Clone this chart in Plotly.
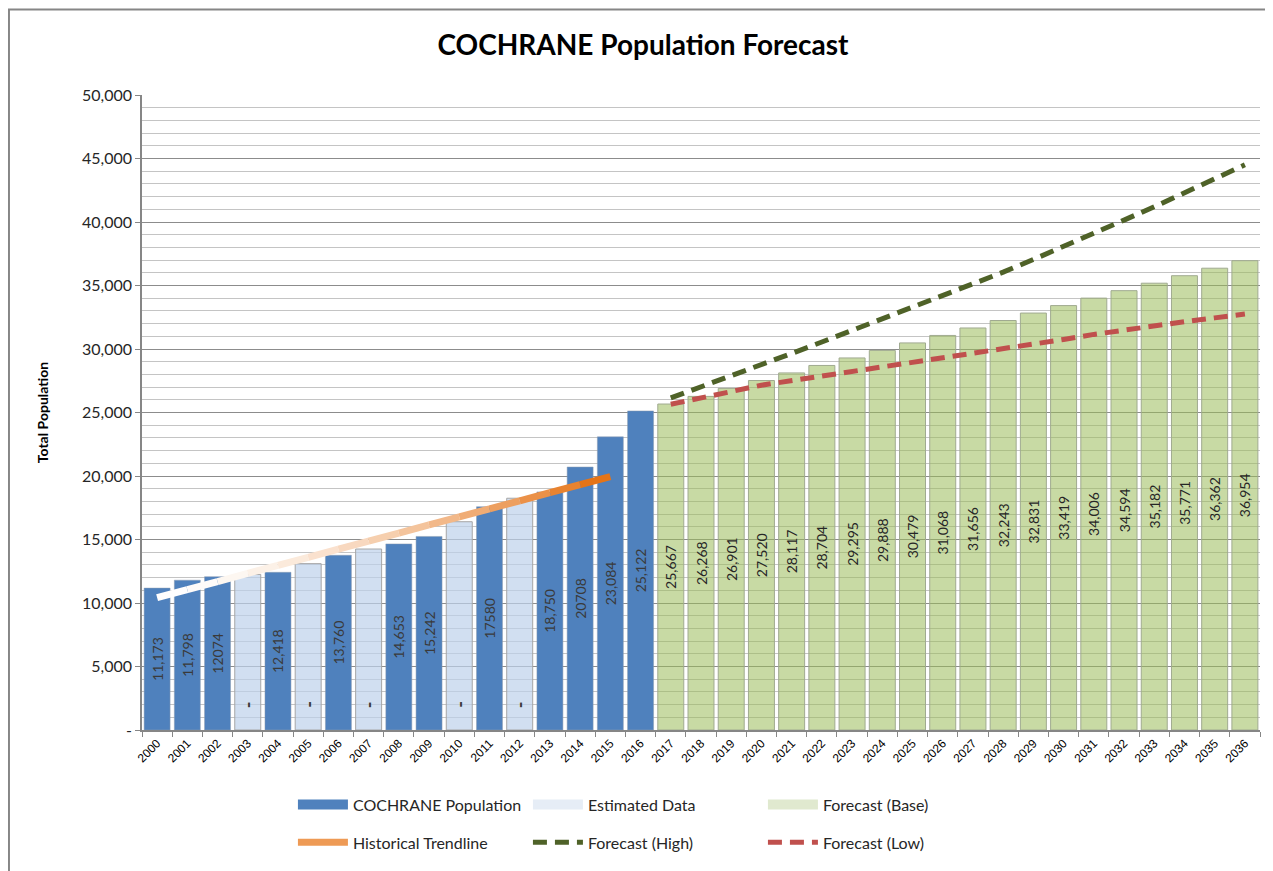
import plotly.graph_objects as go

# --- data ---
years = [str(y) for y in range(2000, 2037)]

hist_years = [str(y) for y in range(2000, 2017)]
hist_pop = [11173, 11798, 12074, None, 12418, None, 13760, None, 14653, 15242,
            None, 17580, None, 18750, 20708, 23084, 25122]
hist_labels = ["11,173", "11,798", "12074", "-", "12,418", "-", "13,760", "-", "14,653",
               "15,242", "-", "17580", "-", "18,750", "20708", "23,084", "25,122"]

est_years = ["2003", "2005", "2007", "2010", "2012"]
est_pop = [12250, 13100, 14250, 16400, 18250]

fc_years = [str(y) for y in range(2017, 2037)]
fc_base = [25667, 26268, 26901, 27520, 28117, 28704, 29295, 29888, 30479, 31068,
           31656, 32243, 32831, 33419, 34006, 34594, 35182, 35771, 36362, 36954]
fc_high = [26150, 27000, 27850, 28750, 29650, 30550, 31450, 32350, 33250, 34150,
           35100, 36050, 37050, 38050, 39100, 40150, 41200, 42300, 43400, 44500]
fc_low = [25650, 26200, 26650, 27150, 27500, 27900, 28200, 28600, 28950, 29300,
          29700, 30050, 30400, 30750, 31150, 31500, 31800, 32150, 32450, 32750]

trend_years = [str(y) for y in range(2000, 2016)]
trend_vals = [10420, 11060, 11690, 12330, 12970, 13600, 14240, 14870, 15510, 16150,
              16780, 17420, 18050, 18690, 19330, 19960]

y_ticks = [0, 5000, 10000, 15000, 20000, 25000, 30000, 35000, 40000, 45000, 50000]
y_tick_text = ["-", "5,000", "10,000", "15,000", "20,000", "25,000", "30,000",
               "35,000", "40,000", "45,000", "50,000"]

CAL = "Lato"
fig = go.Figure()

# estimated (light) bars behind
fig.add_trace(go.Bar(
    x=est_years, y=est_pop, name="Estimated Data", showlegend=False,
    marker=dict(color="rgba(190,210,235,0.7)", line=dict(color="#a6a6a6", width=1)),
    hoverinfo="y",
))

# actual population
fig.add_trace(go.Bar(
    x=hist_years, y=hist_pop, name="COCHRANE Population", showlegend=False,
    marker=dict(color="#4f81bd", line=dict(color="#8c9cb0", width=0.5)),
    text=[t if v is not None else "" for t, v in zip(hist_labels, hist_pop)],
    textposition="inside", insidetextanchor="middle", textangle=-90,
    textfont=dict(family=CAL, size=14, color="#3a3a3a"),
))

# forecast base
fig.add_trace(go.Bar(
    x=fc_years, y=fc_base, name="Forecast (Base)", showlegend=False,
    marker=dict(color="rgba(155,187,89,0.55)", line=dict(color="#a0aa90", width=1)),
    text=[f"{v:,}" for v in fc_base],
    textposition="inside", insidetextanchor="middle", textangle=-90,
    textfont=dict(family=CAL, size=14, color="#262626"),
))

# historical trendline, drawn in segments to fake the white -> orange gradient
n = len(trend_vals) - 1
for i in range(n):
    t = ((i + 0.5) / n) ** 1.6
    r = round(255 + (228 - 255) * t)
    g = round(255 + (108 - 255) * t)
    b = round(255 + (10 - 255) * t)
    fig.add_trace(go.Scatter(
        x=trend_years[i:i + 2], y=trend_vals[i:i + 2], mode="lines",
        line=dict(color=f"rgb({r},{g},{b})", width=7),
        showlegend=False, hoverinfo="skip",
    ))

fig.add_trace(go.Scatter(
    x=fc_years, y=fc_high, mode="lines", name="Forecast (High)", showlegend=False,
    line=dict(color="#4f6228", width=5, dash="14px,8px"),
))
fig.add_trace(go.Scatter(
    x=fc_years, y=fc_low, mode="lines", name="Forecast (Low)", showlegend=False,
    line=dict(color="#c0504d", width=5, dash="14px,8px"),
))

# legend entries (wide Excel-style swatches)
legend_items = [
    ("COCHRANE Population", "legend", dict(color="#4f81bd", width=10)),
    ("Estimated Data", "legend", dict(color="#e6edf6", width=10)),
    ("Forecast (Base)", "legend", dict(color="#e0e9cf", width=10)),
    ("Historical Trendline", "legend2", dict(color="#ee9a55", width=7)),
    ("Forecast (High)", "legend2", dict(color="#4f6228", width=5, dash="14px,8px")),
    ("Forecast (Low)", "legend2", dict(color="#c0504d", width=5, dash="14px,8px")),
]
for name, lg, ln in legend_items:
    fig.add_trace(go.Scatter(x=[None], y=[None], mode="lines", name=name,
                             legend=lg, line=ln, hoverinfo="skip"))

# the "-" labels on the estimated years (category axis -> use index positions)
for yr in est_years:
    fig.add_annotation(x=years.index(yr), y=2000, text="<b>-</b>", showarrow=False,
                       textangle=-90, font=dict(family=CAL, size=18, color="#3a3a3a"))

legend_style = dict(orientation="h", x=0.135, xanchor="left", yanchor="middle",
                    entrywidth=170, itemwidth=50, traceorder="normal",
                    font=dict(family=CAL, size=16, color="#262626"))

# page body has an 8px margin, so the figure is 8px smaller than the window
fig.update_layout(
    width=1265, height=863,
    paper_bgcolor="white", plot_bgcolor="white",
    margin=dict(l=134, r=13, t=87, b=138),
    barmode="overlay", bargap=0.14,
    title=dict(text="<b>COCHRANE Population Forecast</b>", x=0.502, xanchor="center",
               y=0.957, yanchor="middle", font=dict(family=CAL, size=28, color="black")),
    font=dict(family=CAL, color="#262626"),
    xaxis=dict(
        type="category", categoryorder="array", categoryarray=years,
        range=[-0.5, len(years) - 0.5], automargin=False,
        tickangle=-45, tickfont=dict(family="Liberation Sans", size=12, color="black"),
        ticks="outside", ticklen=5, tickcolor="#868686", tickson="boundaries",
        showline=True, linecolor="#868686", linewidth=1.5, showgrid=False,
    ),
    yaxis=dict(
        range=[0, 50000], tickvals=y_ticks, ticktext=y_tick_text, automargin=False,
        tickfont=dict(family=CAL, size=16, color="#262626"),
        ticks="outside", ticklen=5, tickcolor="#868686",
        showline=True, linecolor="#868686", linewidth=1.5,
        showgrid=True, gridcolor="#8c8c8c", gridwidth=1.4,
        minor=dict(dtick=1000, showgrid=True, gridcolor="#c4c4c4", gridwidth=1),
        zeroline=False,
        title=dict(text="<b>Total Population</b>", standoff=30,
                   font=dict(family=CAL, size=14, color="black")),
    ),
    legend=dict(legend_style, y=-0.1176),
    legend2=dict(legend_style, y=-0.177),
    showlegend=True,
)

# outer chart frame (only its top and left edges fall inside the picture)
fig.add_shape(type="rect", xref="paper", yref="paper",
              x0=-0.1190, x1=1.05, y0=-0.3, y1=1.1348,
              line=dict(color="#868686", width=2))

fig.write_html("out.html")
